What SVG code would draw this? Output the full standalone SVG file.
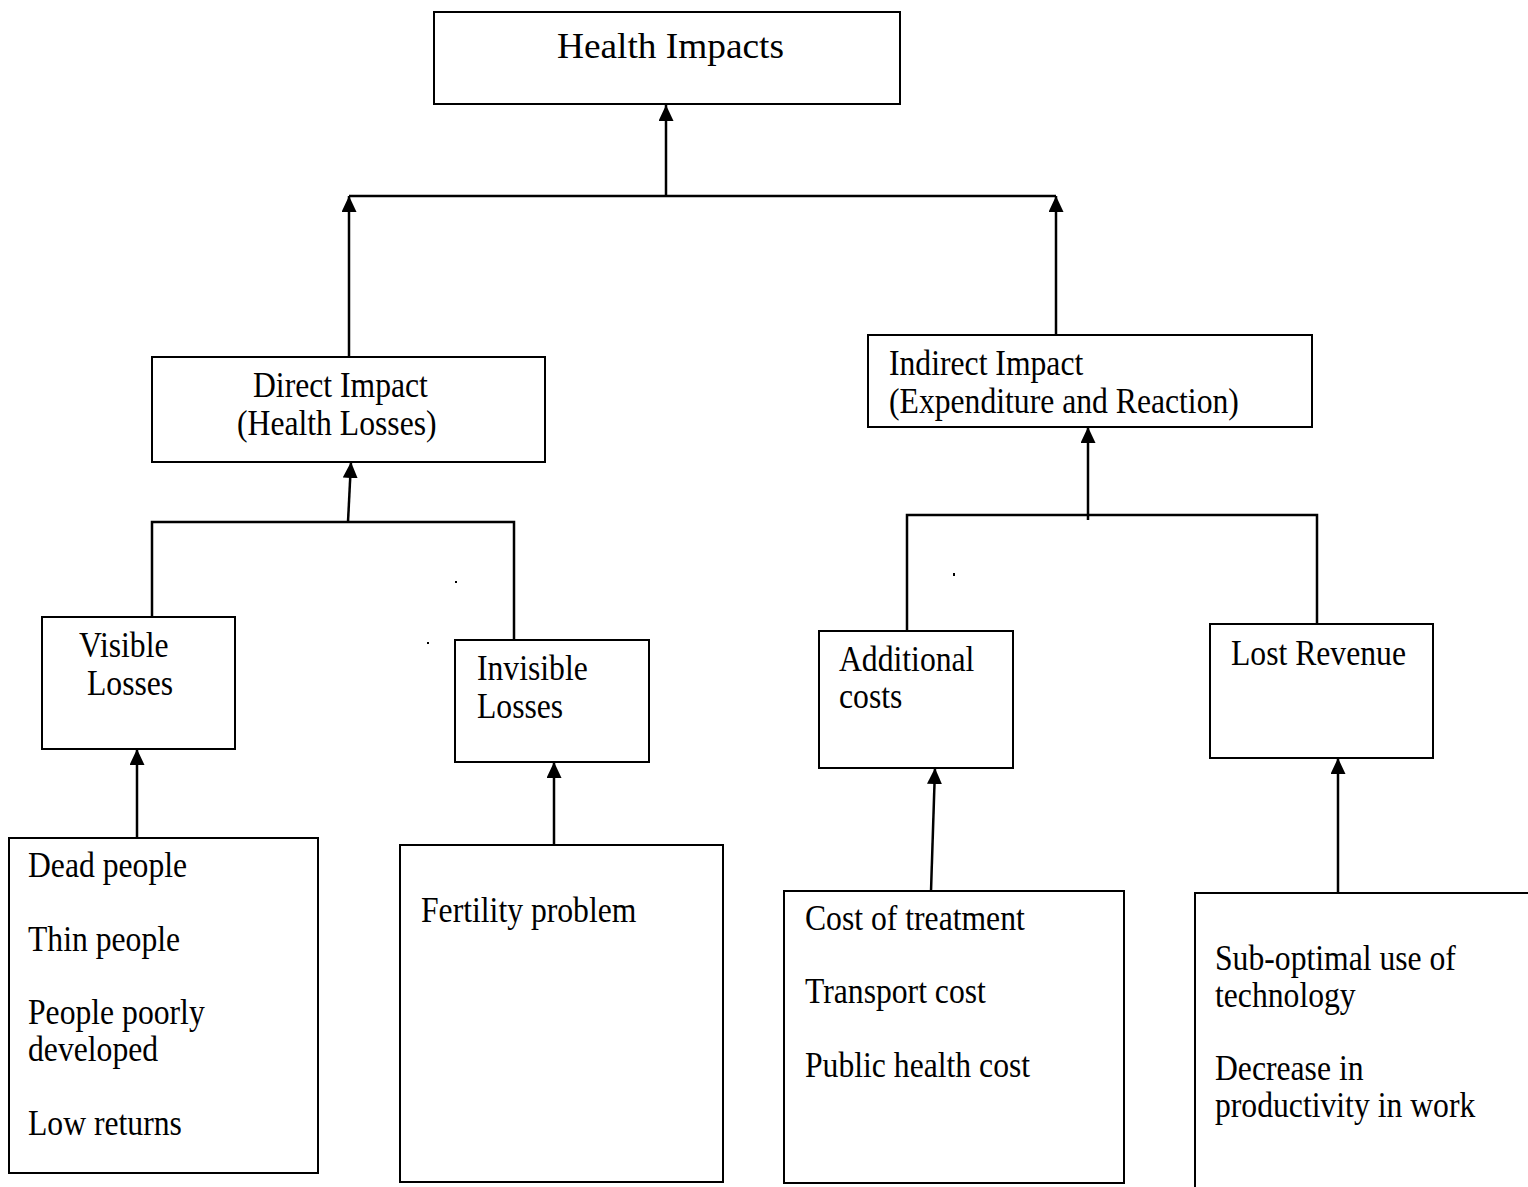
<svg xmlns="http://www.w3.org/2000/svg" width="1528" height="1187" viewBox="0 0 1528 1187">
<defs>
<style>
.box{fill:#fff;stroke:#000;stroke-width:2}
.t{font-family:"Liberation Serif","Times New Roman",serif;font-size:35px;fill:#000}
.c{fill:none;stroke:#000;stroke-width:2.5}
.dot{fill:#000}
</style>
<marker id="ah" markerUnits="userSpaceOnUse" markerWidth="16" markerHeight="16" refX="16" refY="7.5" orient="auto">
<path d="M0,0 L16,7.5 L0,15 z" fill="#000"/>
</marker>
</defs>
<rect width="1528" height="1187" fill="#fff"/>

<g id="health-impacts">
<rect class="box" x="434" y="12" width="466" height="92"/>
<text class="t" x="557" y="58" font-size="38" textLength="227" lengthAdjust="spacingAndGlyphs">Health Impacts</text>
</g>

<g id="direct-impact">
<rect class="box" x="152" y="357" width="393" height="105"/>
<text class="t" transform="translate(253,397) scale(0.905,1)">Direct Impact</text>
<text class="t" transform="translate(237,435) scale(0.905,1)">(Health Losses)</text>
</g>

<g id="indirect-impact">
<rect class="box" x="868" y="335" width="444" height="92"/>
<text class="t" transform="translate(889,375) scale(0.905,1)">Indirect Impact</text>
<text class="t" transform="translate(889,413) scale(0.905,1)">(Expenditure and Reaction)</text>
</g>

<g id="visible-losses">
<rect class="box" x="42" y="617" width="193" height="132"/>
<text class="t" transform="translate(79,657) scale(0.905,1)">Visible</text>
<text class="t" transform="translate(87,695) scale(0.905,1)">Losses</text>
</g>

<g id="invisible-losses">
<rect class="box" x="455" y="640" width="194" height="122"/>
<text class="t" transform="translate(477,680) scale(0.905,1)">Invisible</text>
<text class="t" transform="translate(477,718) scale(0.905,1)">Losses</text>
</g>

<g id="additional-costs">
<rect class="box" x="819" y="631" width="194" height="137"/>
<text class="t" transform="translate(839,671) scale(0.905,1)">Additional</text>
<text class="t" transform="translate(839,708) scale(0.905,1)">costs</text>
</g>

<g id="lost-revenue">
<rect class="box" x="1210" y="624" width="223" height="134"/>
<text class="t" transform="translate(1231,665) scale(0.905,1)">Lost Revenue</text>
</g>

<g id="visible-items">
<rect class="box" x="9" y="838" width="309" height="335"/>
<text class="t" transform="translate(28,877) scale(0.905,1)">Dead people</text>
<text class="t" transform="translate(28,951) scale(0.905,1)">Thin people</text>
<text class="t" transform="translate(28,1024) scale(0.905,1)">People poorly</text>
<text class="t" transform="translate(28,1061) scale(0.905,1)">developed</text>
<text class="t" transform="translate(28,1135) scale(0.905,1)">Low returns</text>
</g>

<g id="invisible-items">
<rect class="box" x="400" y="845" width="323" height="337"/>
<text class="t" transform="translate(421,922) scale(0.905,1)">Fertility problem</text>
</g>

<g id="additional-items">
<rect class="box" x="784" y="891" width="340" height="292"/>
<text class="t" transform="translate(805,930) scale(0.905,1)">Cost of treatment</text>
<text class="t" transform="translate(805,1003) scale(0.905,1)">Transport cost</text>
<text class="t" transform="translate(805,1077) scale(0.905,1)">Public health cost</text>
</g>

<g id="revenue-items">
<rect class="box" x="1195" y="893" width="400" height="400"/>
<text class="t" transform="translate(1215,970) scale(0.905,1)">Sub-optimal use of</text>
<text class="t" transform="translate(1215,1007) scale(0.905,1)">technology</text>
<text class="t" transform="translate(1215,1080) scale(0.905,1)">Decrease in</text>
<text class="t" transform="translate(1215,1117) scale(0.905,1)">productivity in work</text>
</g>

<g id="connectors">
<line class="c" x1="666" y1="197" x2="666" y2="105" marker-end="url(#ah)"/>
<line class="c" x1="349" y1="196" x2="1056" y2="196"/>
<line class="c" x1="349" y1="357" x2="349" y2="196" marker-end="url(#ah)"/>
<line class="c" x1="1056" y1="335" x2="1056" y2="196" marker-end="url(#ah)"/>
<line class="c" x1="348" y1="522" x2="351" y2="462" marker-end="url(#ah)"/>
<path class="c" d="M152,617 V522 H514 V640"/>
<line class="c" x1="1088" y1="520" x2="1088" y2="427" marker-end="url(#ah)"/>
<path class="c" d="M907,631 V515 H1317 V624"/>
<line class="c" x1="137" y1="838" x2="137" y2="749" marker-end="url(#ah)"/>
<line class="c" x1="554" y1="845" x2="554" y2="762" marker-end="url(#ah)"/>
<line class="c" x1="931" y1="891" x2="935" y2="768" marker-end="url(#ah)"/>
<line class="c" x1="1338" y1="893" x2="1338" y2="758" marker-end="url(#ah)"/>
</g>

<rect class="dot" x="455" y="581" width="2" height="2"/>
<rect class="dot" x="427" y="642" width="2" height="2"/>
<rect class="dot" x="953" y="573" width="2" height="3"/>
</svg>
